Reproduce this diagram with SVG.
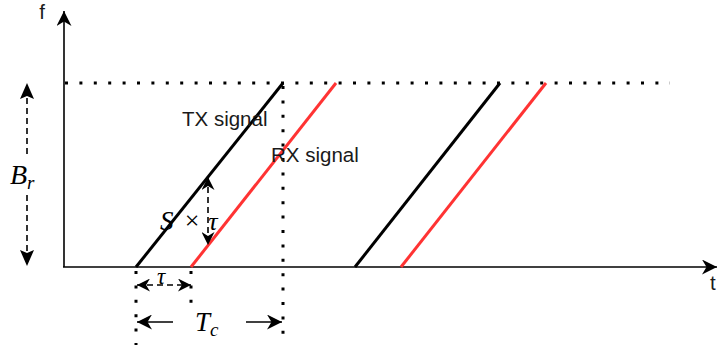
<svg xmlns="http://www.w3.org/2000/svg" width="717" height="345" viewBox="0 0 717 345">
<style>
.axis{stroke:#000;stroke-width:1.6;fill:none}
.dot{stroke:#000;stroke-width:3;stroke-dasharray:3 11.4;fill:none}
.tx{stroke:#000;stroke-width:3;fill:none}
.rx{stroke:#FF3333;stroke-width:3;fill:none}
.dash{stroke:#000;stroke-width:1.6;stroke-dasharray:6 4;fill:none}
.sol{stroke:#000;stroke-width:1.6;fill:none}
.lbl{font-family:"Liberation Sans",Arial,sans-serif;font-size:20.5px;fill:#1a1a1a}
.math{font-family:"Liberation Serif","Times New Roman",serif;font-style:italic;fill:#000}
</style>
<defs>
<marker id="ah" viewBox="0 0 10 10" refX="10" refY="5" markerWidth="13" markerHeight="13" markerUnits="userSpaceOnUse" orient="auto-start-reverse">
<path d="M0,0 L10,5 L0,10 L3,5 Z" fill="#000"/>
</marker>
<marker id="ahb" viewBox="0 0 10 10" refX="10" refY="5" markerWidth="15" markerHeight="15" markerUnits="userSpaceOnUse" orient="auto-start-reverse">
<path d="M0,0 L10,5 L0,10 L3,5 Z" fill="#000"/>
</marker>
</defs>
<g id="axes">
<line class="axis" x1="64" y1="267" x2="64" y2="11" marker-end="url(#ahb)"/>
<line class="axis" x1="63" y1="267" x2="717" y2="267" marker-end="url(#ahb)"/>
<text class="lbl" x="42" y="19" text-anchor="middle">f</text>
<text class="lbl" x="710" y="290" text-anchor="start">t</text>
</g>
<g id="guides">
<line class="dot" x1="65" y1="83" x2="670" y2="83"/>
<line class="dot" x1="283" y1="86" x2="283" y2="345"/>
<line class="dot" x1="136" y1="271" x2="136" y2="345"/>
<line class="dot" x1="191" y1="271" x2="191" y2="310"/>
</g>
<g id="tx-signal">
<line class="tx" x1="136" y1="267" x2="283" y2="83"/>
<line class="tx" x1="355" y1="267" x2="500" y2="83"/>
<text class="lbl" x="182" y="126">TX signal</text>
</g>
<g id="rx-signal">
<line class="rx" x1="191" y1="267" x2="336" y2="83"/>
<line class="rx" x1="401" y1="267" x2="546" y2="83"/>
<text class="lbl" x="271" y="162">RX signal</text>
</g>
<g id="connectors">
<line class="dash" x1="27" y1="98" x2="27" y2="158" />
<line class="dash" x1="27" y1="195" x2="27" y2="252" />
<path d="M27,83 L34,99 L27,96 L20,99 Z" fill="#000"/>
<path d="M27,266 L34,250 L27,253 L20,250 Z" fill="#000"/>
<line class="dash" x1="208" y1="177" x2="208" y2="245" marker-start="url(#ah)" marker-end="url(#ah)"/>
<line class="dash" x1="137" y1="285" x2="191" y2="285" marker-start="url(#ah)" marker-end="url(#ah)"/>
<line class="sol" x1="173" y1="322" x2="137" y2="322" marker-end="url(#ahb)"/>
<line class="sol" x1="246" y1="322" x2="282" y2="322" marker-end="url(#ahb)"/>
</g>
<g id="math-labels">
<rect x="151" y="270" width="20" height="12" fill="#fff"/>
<text class="math" x="161" y="284" font-size="23" text-anchor="middle">τ</text>
<text class="math" x="10" y="184" font-size="28">B<tspan font-size="19" dy="5">r</tspan></text>
<text class="math" x="160" y="230" font-size="27">S</text>
<text x="192" y="229" font-size="26" font-family="'Liberation Serif',serif" fill="#000" text-anchor="middle">×</text>
<text class="math" x="213" y="230" font-size="26" text-anchor="middle">τ</text>
<text class="math" x="195" y="331" font-size="27">T<tspan font-size="19" dy="5">c</tspan></text>
</g>
</svg>
